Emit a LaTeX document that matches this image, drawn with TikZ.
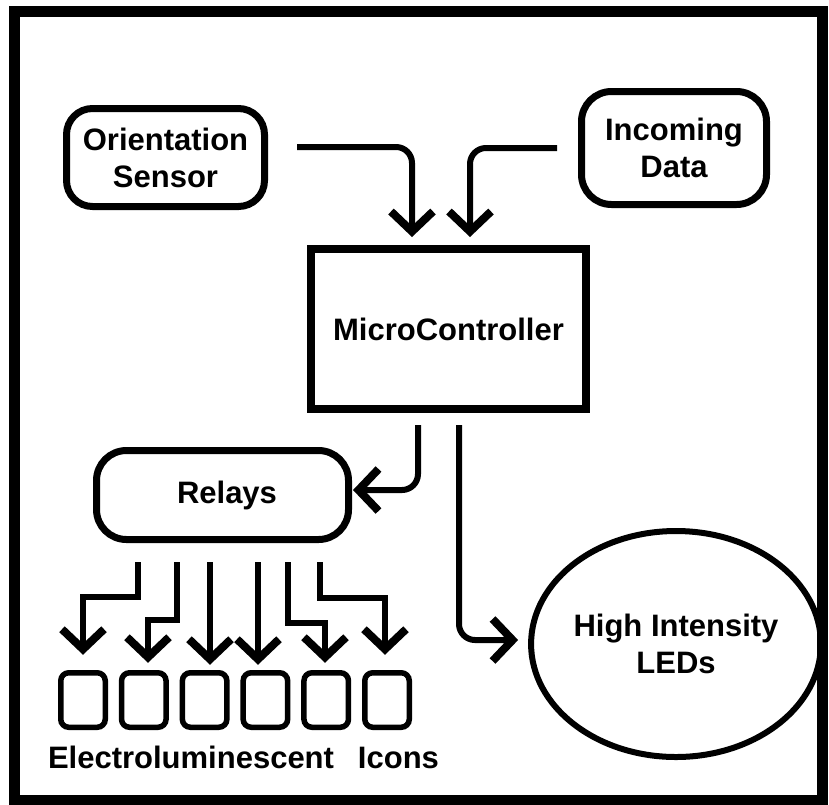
\documentclass[tikz,border=0pt]{standalone}
\usepackage{fontspec}
\setmainfont{Liberation Sans}
\usetikzlibrary{positioning,arrows.meta,shapes.geometric}

\tikzset{
  lbl/.style={font=\bfseries\fontsize{31}{37}\selectfont, align=center},
  block/.style={draw, lbl, line width=7pt, inner sep=0pt, outer sep=0pt},
  softblock/.style={block, rounded corners=26pt},
  icon/.style={draw, line width=5.5pt, rounded corners=8pt, minimum width=44.5pt, minimum height=54.5pt, outer sep=0pt},
  flow/.style={line width=6pt, -{Straight Barb[length=20pt,width=42pt,line width=8pt]}},
}

\begin{document}
\begin{tikzpicture}[x=1pt, y=-1pt]
  \useasboundingbox (0,0) rectangle (829,804);
  \draw[line width=11pt] (14.5,11) rectangle (822.5,800.5);  % outer frame

  \node[softblock, minimum width=198pt, minimum height=98pt] (sensor) at (165.5,157.5) {Orientation\\Sensor};
  \node[softblock, rounded corners=30pt, minimum width=185pt, minimum height=113pt] (data) at (674,148) {Incoming\\Data};
  \node[block, line width=8pt, minimum width=275pt, minimum height=160pt] (mcu) at (448.5,329) {MicroController};
  \node[softblock, rounded corners=30pt, minimum width=252pt, minimum height=89pt] (relays) at (222.5,495) {\hspace{9pt}Relays};
  \node[draw, ellipse, lbl, line width=6pt, inner sep=0pt, outer sep=0pt, minimum width=256pt, minimum height=226pt] (leds) at (676,644) {High Intensity\\LEDs};

  \foreach \i in {1,...,6}
    \node[icon] (icon\i) at ({83+60.8*(\i-1)},700) {};
  \node[lbl] (caption) at (243.5,757) {Electroluminescent\hspace{24pt}Icons};

  % inputs into the controller
  \coordinate (sensorout) at (297,147);
  \coordinate (dataout) at (557,148);
  \draw[flow, rounded corners=16pt] (sensorout) -| ([xshift=-36.5pt,yshift=12pt]mcu.north);
  \draw[flow, rounded corners=16pt] (dataout) -| ([xshift=21.5pt,yshift=12pt]mcu.north);

  % controller outputs
  \draw[flow, rounded corners=16pt] ([xshift=-30.5pt,yshift=-16pt]mcu.south) |- ([xshift=4.5pt,yshift=5pt]relays.east);
  \draw[flow, rounded corners=16pt] ([xshift=10.5pt,yshift=-16pt]mcu.south) |- ([xshift=-13pt,yshift=4pt]leds.west);

  % relays to icons
  \foreach \dx/\name in {-84.5/r1, -45.5/r2, -12.5/r3, 35.5/r4, 65.5/r5, 97.5/r6}
    \coordinate (\name) at ([xshift=\dx pt, yshift=-22.5pt]relays.south);
  \draw[flow] (r1) -- ++(0,35) -| ([yshift=18pt]icon1.north);
  \draw[flow] (r2) -- ++(0,58) -| ([xshift=4.2pt,yshift=10pt]icon2.north);
  \draw[flow] (r3) -- ([xshift=5.4pt,yshift=8pt]icon3.north);
  \draw[flow] (r4) -- ([xshift=-7.4pt,yshift=8pt]icon4.north);
  \draw[flow] (r5) -- ++(0,61) -| ([xshift=-1.2pt,yshift=10pt]icon5.north);
  \draw[flow] (r6) -- ++(0,36) -| ([xshift=-2pt,yshift=18pt]icon6.north);
\end{tikzpicture}
\end{document}
